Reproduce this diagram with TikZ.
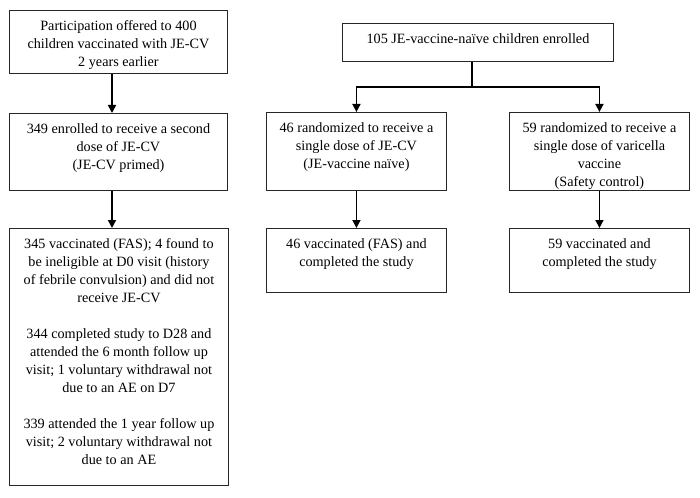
\documentclass[tikz,border=0pt]{standalone}
\usepackage{fontspec}
\setmainfont{Liberation Serif}
\usetikzlibrary{arrows.meta}
\newcommand\bxtext[3]{\parbox[t][#2][t]{#1}{\centering\rule{0pt}{20pt}#3}}
\tikzset{
  flowbox/.style={draw=black!85, line width=0.9pt, inner sep=0pt, anchor=north west,
    font=\fontsize{14.2}{18}\selectfont},
  conn/.style={line width=1.6pt, black},
  arr/.style={conn, -{Triangle[width=8pt,length=8pt]}}
}
\begin{document}
\begin{tikzpicture}[x=1pt,y=-1pt]
\useasboundingbox (0,0) rectangle (700,497);
% left column
\node[flowbox] (A) at (9,10) {\bxtext{218pt}{63pt}{Participation offered to 400\\children vaccinated with JE-CV\\2 years earlier}};
\node[flowbox] (B) at (9,113) {\bxtext{218pt}{77pt}{349 enrolled to receive a second\\dose of JE-CV\\(JE-CV primed)}};
\node[flowbox] (C) at (9,228) {\bxtext{219pt}{257pt}{345 vaccinated (FAS); 4 found to\\be ineligible at D0 visit (history\\of febrile convulsion) and did not\\receive JE-CV\\[18pt]344 completed study to D28 and\\attended the 6 month follow up\\visit; 1 voluntary withdrawal not\\due to an AE on D7\\[18pt]339 attended the 1 year follow up\\visit; 2 voluntary withdrawal not\\due to an AE}};
% right part
\node[flowbox] (D) at (342,23) {\bxtext{271pt}{38pt}{105 JE-vaccine-naïve children enrolled}};
\node[flowbox] (E) at (266,112) {\bxtext{180pt}{78pt}{46 randomized to receive a\\single dose of JE-CV\\(JE-vaccine naïve)}};
\node[flowbox] (F) at (509,112) {\bxtext{180pt}{78pt}{59 randomized to receive a\\single dose of varicella\\vaccine\\(Safety control)}};
\node[flowbox] (G) at (266,228) {\bxtext{180pt}{64pt}{46 vaccinated (FAS) and\\completed the study}};
\node[flowbox] (H) at (509,228) {\bxtext{180pt}{64pt}{59 vaccinated and\\completed the study}};
% connectors
\coordinate (ax) at (112,0);
\coordinate (dx) at (472,0);
\coordinate (jy) at (0,87);
\draw[arr] (A.south -| ax) -- (B.north -| ax);
\draw[arr] (B.south -| ax) -- (C.north -| ax);
\draw[conn] (D.south -| dx) -- (dx |- jy);
\draw[arr] (dx |- jy) -| (E.north);
\draw[arr] (dx |- jy) -| (F.north);
\draw[arr] (E.south) -- (G.north);
\draw[arr] (F.south) -- (H.north);
\end{tikzpicture}
\end{document}
